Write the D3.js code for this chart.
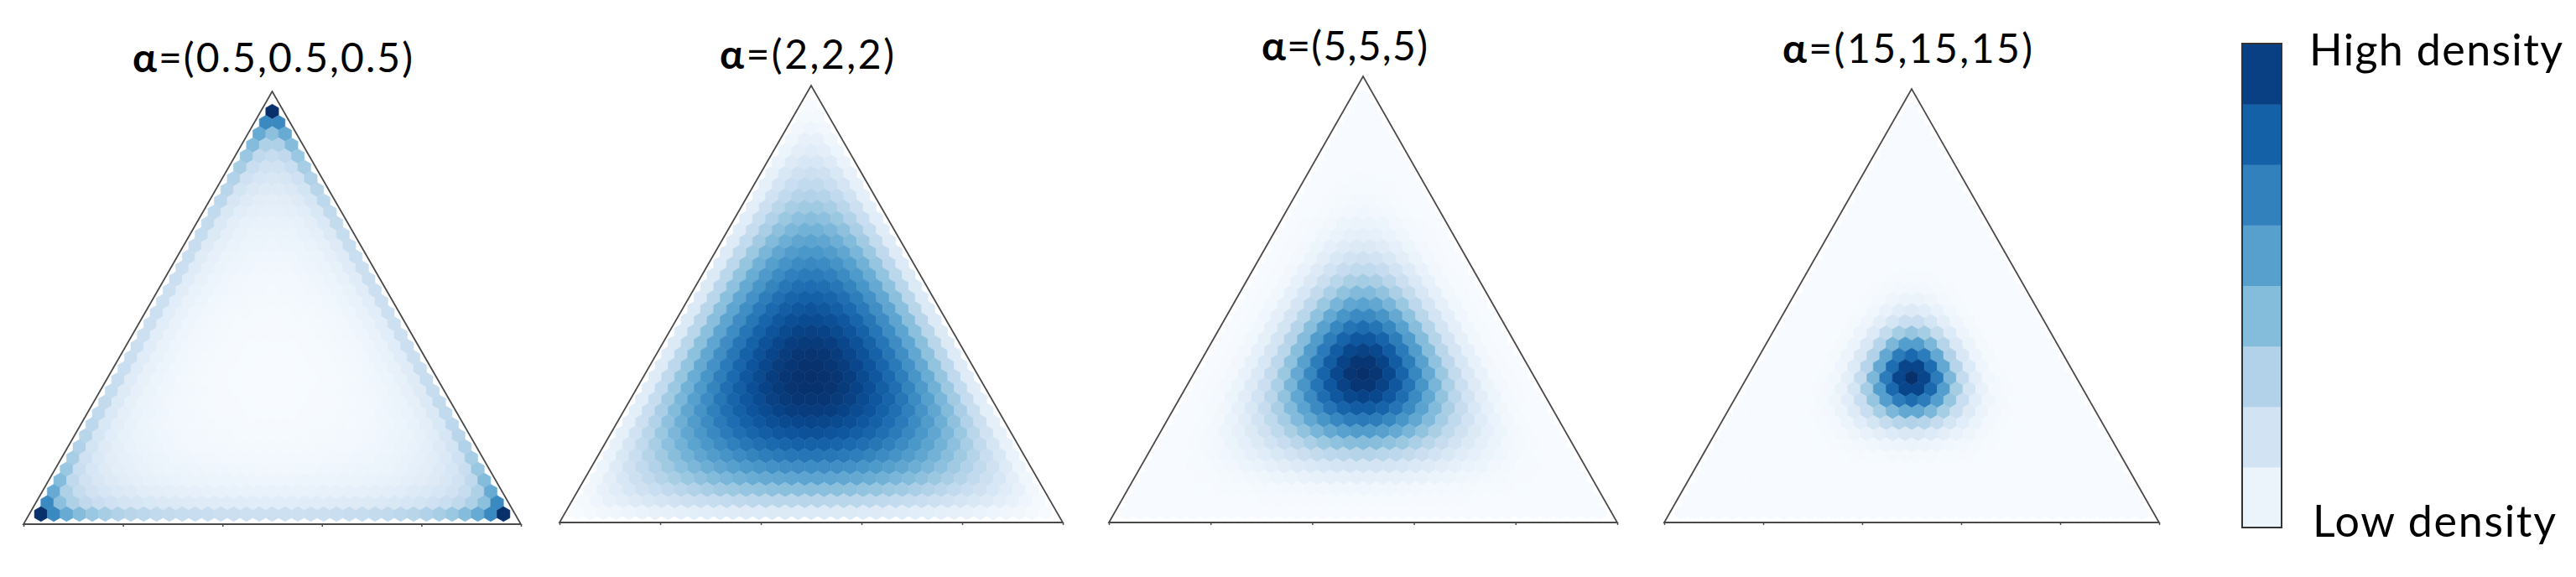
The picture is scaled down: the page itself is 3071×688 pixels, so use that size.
<!DOCTYPE html>
<html><head><meta charset="utf-8">
<script src="https://cdn.jsdelivr.net/npm/d3@7"></script>
<style>body{margin:0;background:#fff;} svg{display:block}</style>
</head><body>
<svg id="chart" width="3071" height="688"></svg>
<script>
// ---------- data ----------
const alphaLabels = ["0.5,0.5,0.5", "2,2,2", "5,5,5", "15,15,15"];
const alphaValues = [[0.5,0.5,0.5], [2,2,2], [5,5,5], [15,15,15]];
const legendLabels = ["High density", "Low density"];
const legendSteps = d3.range(8);          // 8 colour steps, low -> high
const baseTicks = [0, 0.2, 0.4, 0.6, 0.8, 1.0];
const hexRows = 37;                       // rows of hexagons (apex row has 1)

// ---------- layout (styles / positions) ----------
const panels = [
  {x0: 28,   x1: 621,  base: 625, apex: 109, tx: 325,  ty: 86, tw: 334},
  {x0: 667,  x1: 1267, base: 623, apex: 102, tx: 962,  ty: 82, tw: 208},
  {x0: 1322, x1: 1928, base: 623, apex: 91,  tx: 1603, ty: 72, tw: 198},
  {x0: 1984, x1: 2574, base: 623, apex: 106, tx: 2274, ty: 75, tw: 298}
];
const shrink = 0.93;     // hex-centre lattice inset from the triangle edges
const legend = {x: 2673, w: 47, top: 52, bottom: 629, tx: 2753, hiY: 78, loY: 640, hiW: 302, loW: 290};
const fontFam = "Lato, 'Open Sans', sans-serif";

const svg = d3.select("#chart");

function logDirichlet(lam, a) {
  let s = 0;
  for (let k = 0; k < 3; k++) s += (a[k] - 1) * Math.log(lam[k]);
  return s;
}

panels.forEach((p, pi) => {
  const a = alphaValues[pi];
  const x = d3.scaleLinear().domain([0, 1]).range([p.x0, p.x1]);
  const y = d3.scaleLinear().domain([0, 1]).range([p.base, p.apex]);
  const g = svg.append("g");

  // lattice of hex centres in barycentric coordinates (top, left, right)
  const cells = [];
  const n = hexRows - 1;
  for (let k = 0; k <= n; k++) {
    for (let i = 0; i <= k; i++) {
      const o = [1 - k / n, (k - i) / n, i / n];
      const lam = o.map(v => 1/3 + shrink * (v - 1/3));
      cells.push({lam, cx: lam[2] + lam[0] / 2, cy: lam[0]});
    }
  }
  cells.forEach(c => { c.v = Math.exp(logDirichlet(c.lam, a)); });
  const color = d3.scaleSequential(d3.interpolateBlues).domain(d3.extent(cells, c => c.v));

  const pitchX = (x(1) - x(0)) * shrink / n;        // horizontal spacing
  const rowSp = (y(0) - y(1)) * shrink / n;         // vertical row spacing
  const hw = pitchX / 2, ry = rowSp * 2 / 3;
  const hexPath = (cx, cy) =>
    `M${cx},${cy - ry}L${cx + hw},${cy - ry / 2}L${cx + hw},${cy + ry / 2}` +
    `L${cx},${cy + ry}L${cx - hw},${cy + ry / 2}L${cx - hw},${cy - ry / 2}Z`;

  g.selectAll("path.hex").data(cells).join("path")
    .attr("class", "hex")
    .attr("d", c => hexPath(x(c.cx), y(c.cy)))
    .attr("fill", c => color(c.v))
    .attr("stroke", c => color(c.v))
    .attr("stroke-width", 0.6);

  // triangle outline
  const tri = [[0, 0], [1, 0], [0.5, 1]];
  g.append("path")
    .attr("d", d3.line().x(d => x(d[0])).y(d => y(d[1]))(tri) + "Z")
    .attr("fill", "none")
    .attr("stroke", "#4a4a4a")
    .attr("stroke-width", 1.8)
    .attr("stroke-linejoin", "miter");

  // small ticks on the base
  const ax = g.append("g").attr("transform", `translate(0,${p.base})`)
    .call(d3.axisBottom(x).tickValues(baseTicks).tickSize(3).tickFormat(""));
  ax.select(".domain").remove();
  ax.selectAll("line").attr("stroke", "#4a4a4a").attr("stroke-width", 1.5);

  // title
  const t = svg.append("text")
    .attr("x", p.tx).attr("y", p.ty)
    .attr("text-anchor", "middle")
    .attr("font-family", fontFam)
    .attr("font-size", 48)
    .attr("fill", "#000")
    .attr("textLength", p.tw)
    .attr("lengthAdjust", "spacing");
  t.append("tspan").attr("font-weight", "bold").text("α");
  t.append("tspan").text("=(" + alphaLabels[pi] + ")");
});

// ---------- legend colour bar ----------
const ly = d3.scaleBand().domain(legendSteps).range([legend.bottom, legend.top]).paddingInner(0);
const lg = svg.append("g");
lg.selectAll("rect.step").data(legendSteps).join("rect")
  .attr("class", "step")
  .attr("x", legend.x)
  .attr("y", d => ly(d))
  .attr("width", legend.w)
  .attr("height", ly.bandwidth() + 0.5)
  .attr("fill", d => d3.interpolateBlues((d + 0.5) / legendSteps.length));
lg.append("rect")
  .attr("x", legend.x).attr("y", legend.top)
  .attr("width", legend.w).attr("height", legend.bottom - legend.top)
  .attr("fill", "none").attr("stroke", "#333").attr("stroke-width", 2);

lg.append("text").attr("x", legend.tx).attr("y", legend.hiY)
  .attr("font-family", fontFam).attr("font-size", 52).attr("fill", "#000")
  .attr("textLength", legend.hiW).attr("lengthAdjust", "spacing")
  .text(legendLabels[0]);
lg.append("text").attr("x", legend.tx + 4).attr("y", legend.loY)
  .attr("font-family", fontFam).attr("font-size", 52).attr("fill", "#000")
  .attr("textLength", legend.loW).attr("lengthAdjust", "spacing")
  .text(legendLabels[1]);
</script>
</body></html>
